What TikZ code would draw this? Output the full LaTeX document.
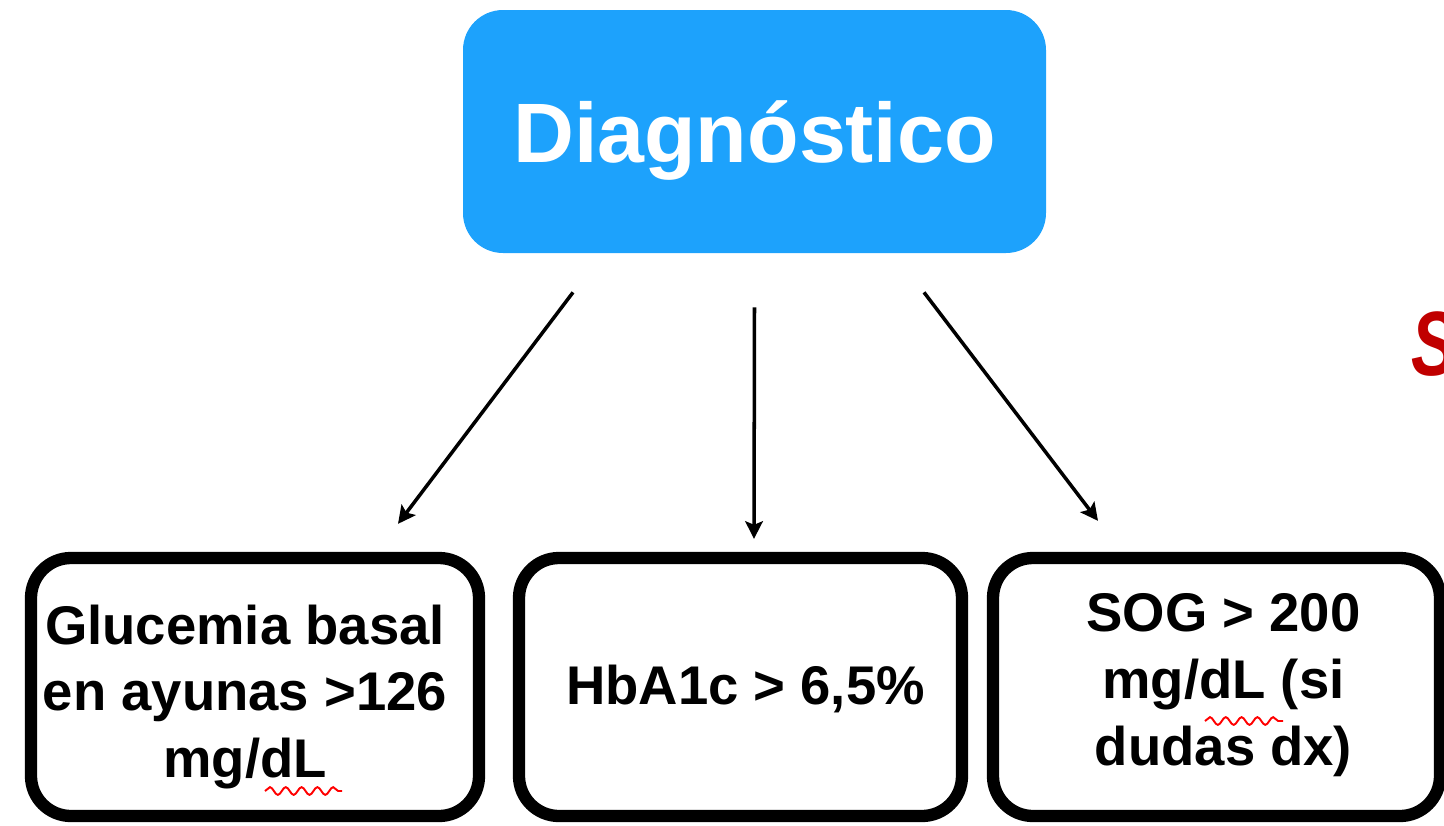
\documentclass[tikz,border=0pt]{standalone}
\usepackage{fontspec}
\setmainfont{Liberation Sans}
\usepackage{tikz}
\usetikzlibrary{positioning}
\usetikzlibrary{calc,arrows.meta}
\usetikzlibrary{decorations.pathmorphing}
\definecolor{DxBlue}{RGB}{29,162,252}
\definecolor{DxRed}{RGB}{192,0,0}

\begin{document}
\begin{tikzpicture}[
	Head/.style  = {fill=DxBlue, rounded corners=0.8cm, minimum width=11.66cm, minimum height=4.86cm,
	                text=white, text depth=0pt, font=\fontsize{48}{56}\selectfont\bfseries},
	Test/.style  = {draw, line width=7pt, line join=round, rounded corners=0.8cm,
	                minimum height=5.16cm},
	Label/.style = {align=center, inner sep=0pt, font=\fontsize{31}{38}\selectfont\bfseries},
	Arrow/.style = {line width=2pt, -{Stealth[length=10pt,width=10pt,inset=2pt]}},
	Spell/.style = {draw=red, line width=1.1pt, decorate, decoration={snake, amplitude=2.2pt, segment length=9pt}},
]
	\useasboundingbox (0,0) rectangle (28.88,-16.5);

	% ---------------------
	% Title & test boxes
	\node[Head] (Diagnostico) at (15.09,-2.63) {Diagnóstico};

	\node[Test, minimum width=8.96cm] (Glucemia) at (5.10,-13.74)  {};
	\node[Test, minimum width=8.86cm] (HbA)      at (14.81,-13.74) {};
	\node[Test, minimum width=8.94cm] (Sog)      at (24.33,-13.74) {};

	% ---------------------
	% Box texts
	\node[Label] (GlucemiaText) at ([shift={(-0.20,-0.20)}]Glucemia.center) {Glucemia basal\\en ayunas >126\\mg/dL};
	\node[Label] (HbAText)      at ([shift={( 0.10,-0.04)}]HbA.center)      {HbA1c > 6,5\%};
	\node[Label] (SogText)      at ([shift={( 0.14, 0.04)}]Sog.center)      {SOG > 200\\mg/dL (si\\dudas dx)};

	% ---------------------
	% Arrow ends
	\path (Diagnostico.south) +(-3.63,-0.78) coordinate (GlucemiaFrom);
	\path (Diagnostico.south) +( 0.00,-1.08) coordinate (HbAFrom);
	\path (Diagnostico.south) +( 3.39,-0.78) coordinate (SogFrom);

	\path (Glucemia.north) +( 2.86,0.56) coordinate (GlucemiaTo);
	\path (HbA.north)      +( 0.27,0.26) coordinate (HbATo);
	\path (Sog.north)      +(-2.37,0.62) coordinate (SogTo);

	\draw[Arrow] (GlucemiaFrom) -- (GlucemiaTo);
	\draw[Arrow] (HbAFrom) -- (HbATo);
	\draw[Arrow] (SogFrom) -- (SogTo);

	% ---------------------
	% Spell marks & cut-off letter
	\draw[Spell] (5.30,-15.82) -- (6.84,-15.82);
	\draw[Spell] (24.10,-14.42) -- (25.66,-14.42);

	\node[anchor=base west, inner sep=0pt, text=DxRed, font=\fontsize{52}{60}\selectfont\bfseries\itshape]
		(Cut) at (28.22,-7.50) {\scalebox{0.75}[1]{S}};

\end{tikzpicture}
\end{document}
